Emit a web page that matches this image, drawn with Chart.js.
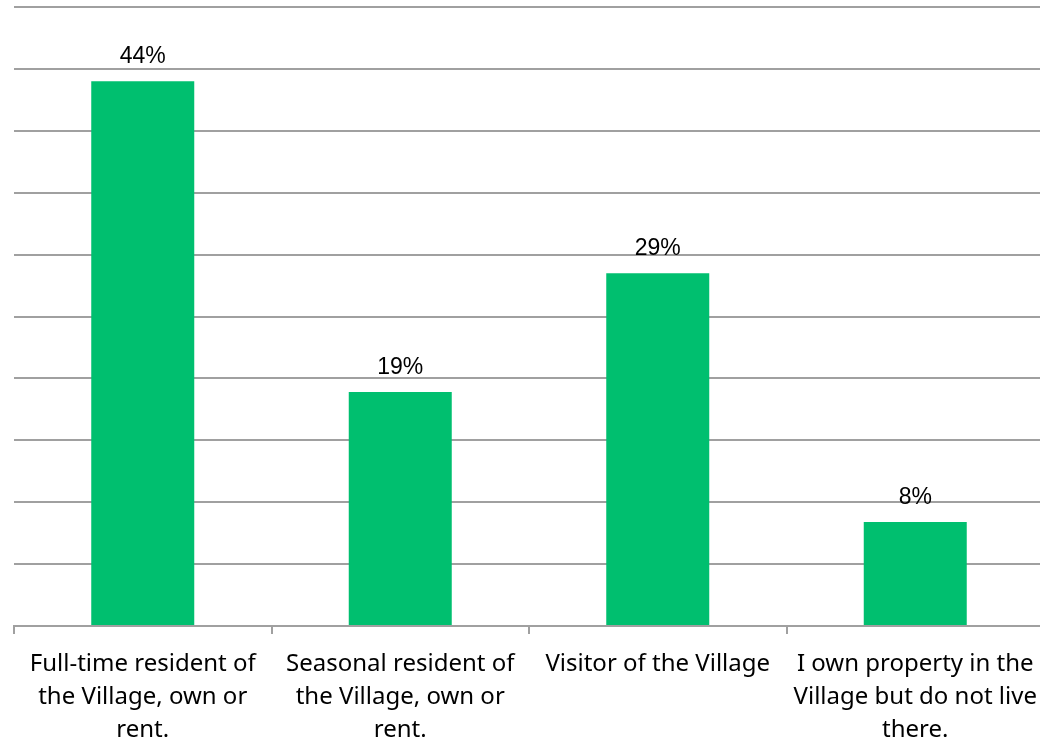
<!DOCTYPE html>
<html>
<head>
<meta charset="utf-8">
<script src="https://cdn.jsdelivr.net/npm/chart.js@4"></script>
<style>
html,body{margin:0;padding:0;background:#fff;overflow:hidden;}
canvas{display:block;}
</style>
</head>
<body>
<canvas id="c" width="1046" height="761" style="width:1046px;height:761px;"></canvas>
<script>
const categories = [
  ["Full-time resident of", "the Village, own or", "rent."],
  ["Seasonal resident of", "the Village, own or", "rent."],
  ["Visitor of the Village"],
  ["I own property in the", "Village but do not live", "there."]
];
const values = [44.0, 18.9, 28.5, 8.4];
const valueLabels = ["44%", "19%", "29%", "8%"];
const yMax = 50;
const yStep = 5;

const labelPlugin = {
  id: 'valueLabels',
  afterDatasetsDraw(chart) {
    const ctx = chart.ctx;
    const meta = chart.getDatasetMeta(0);
    ctx.save();
    ctx.font = '23px "Liberation Sans", Arial, sans-serif';
    ctx.fillStyle = '#000';
    ctx.textAlign = 'center';
    ctx.textBaseline = 'alphabetic';
    meta.data.forEach((bar, i) => {
      ctx.fillText(valueLabels[i], bar.x, bar.y - 18);
    });
    ctx.restore();
  }
};

new Chart(document.getElementById('c'), {
  type: 'bar',
  data: {
    labels: categories,
    datasets: [{
      data: values,
      backgroundColor: '#00BF6F',
      borderWidth: 0,
      categoryPercentage: 1.0,
      barPercentage: 0.4
    }]
  },
  options: {
    responsive: false,
    maintainAspectRatio: false,
    animation: false,
    devicePixelRatio: 1,
    layout: { padding: { left: 14, right: 2, top: 7, bottom: 0 } },
    plugins: { legend: { display: false }, tooltip: { enabled: false } },
    scales: {
      x: {
        afterFit(scale) { scale.paddingLeft = 0; scale.paddingRight = 0; },
        grid: { display: true, drawOnChartArea: false, drawTicks: true, tickLength: 8, color: '#a0a0a0', lineWidth: 2, offset: true },
        border: { display: true, color: '#a0a0a0', width: 2 },
        ticks: { color: '#000', font: { family: '"Noto Sans", sans-serif', size: 24, lineHeight: 1.375 }, padding: 14, maxRotation: 0, autoSkip: false }
      },
      y: {
        min: 0, max: yMax,
        ticks: { display: false, stepSize: yStep },
        grid: { color: '#a0a0a0', lineWidth: 2, drawTicks: false },
        border: { display: false }
      }
    }
  },
  plugins: [labelPlugin]
});
</script>
</body>
</html>
